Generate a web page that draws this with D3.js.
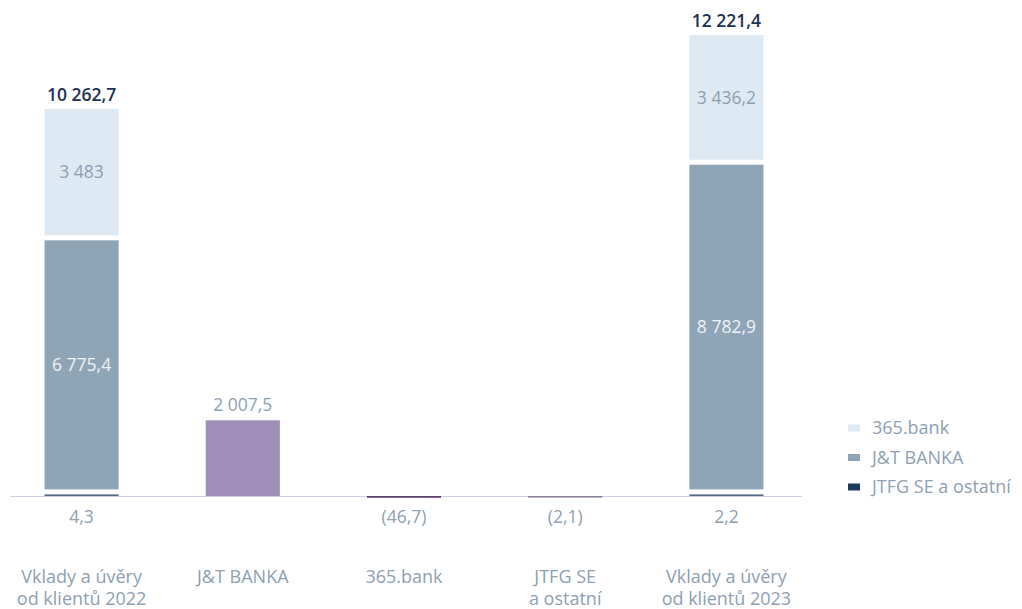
<!DOCTYPE html>
<html>
<head>
<meta charset="utf-8">
<script src="https://cdn.jsdelivr.net/npm/d3@7/dist/d3.min.js"></script>
<style>
  html, body { margin: 0; padding: 0; background: #ffffff; }
  svg text { font-family: 'Open Sans', sans-serif; }
</style>
</head>
<body>
<svg id="chart"></svg>
<script>
// categories on the x axis (\n = line break)
const categories = [
  'Vklady a úvěry\nod klientů 2022',
  'J&T BANKA',
  '365.bank',
  'JTFG SE\na ostatní',
  'Vklady a úvěry\nod klientů 2023'
];

// stacked series, bottom to top
const seriesNames = ['JTFG SE a ostatní', 'J&T BANKA', '365.bank'];
const values2022 = [4.3, 6775.4, 3483];
const values2023 = [2.2, 8782.9, 3436.2];
const totals = [10262.7, 12221.4];

// changes between the two years
const changeCategories = ['J&T BANKA', '365.bank', 'JTFG SE\na ostatní'];
const changeValues = [2007.5, -46.7, -2.1];

const legendOrder = ['365.bank', 'J&T BANKA', 'JTFG SE a ostatní'];

const WIDTH = 1022;
const HEIGHT = 609;
const BASE = 496;
const GAP = 5;

const seriesColor = {
  'JTFG SE a ostatní': '#1e3a5c',
  'J&T BANKA': '#8ea5b8',
  '365.bank': '#dde9f3'
};
const changeColor = ['#9f8fb6', '#5b3f6e', '#8b7f96'];
const GREY = '#8e9fb2';
const DARK = '#1d3150';

const cz = d3.formatLocale({decimal: ',', thousands: '\u00a0', grouping: [3], currency: ['', '']});
const fmt1 = cz.format(',.1f');
const fmt0 = cz.format(',.0f');
function fmt(v) {
  const s = Number.isInteger(v) ? fmt0(Math.abs(v)) : fmt1(Math.abs(v));
  return v < 0 ? '(' + s + ')' : s;
}

const svg = d3.select('#chart').attr('width', WIDTH).attr('height', HEIGHT);

const x = d3.scaleBand().domain(categories).range([1, 807]).paddingInner(0.54).paddingOuter(0.27);
const y = d3.scaleLinear().domain([0, 13000]).range([BASE, BASE - 13000 * 0.03771]);

// axis line
svg.append('line')
  .attr('x1', 10).attr('x2', 802)
  .attr('y1', BASE + 0.5).attr('y2', BASE + 0.5)
  .attr('stroke', '#cdd2e2').attr('stroke-width', 1.2);

// stacked bars
function drawStack(cat, values, total) {
  const g = svg.append('g');
  let cum = 0;
  let prevTop = BASE;
  values.forEach((v, i) => {
    const name = seriesNames[i];
    let bottom = y(cum) - (i > 0 ? GAP : 0);
    bottom = Math.min(bottom, prevTop - (i > 0 ? GAP : 0));
    cum += v;
    let top = y(cum);
    if (bottom - top < 1.6) top = bottom - 1.6;
    g.append('rect')
      .attr('x', x(cat)).attr('width', x.bandwidth())
      .attr('y', top).attr('height', bottom - top)
      .attr('fill', seriesColor[name])
      .attr('fill-opacity', i === 0 ? 0.75 : 1);
    prevTop = top;
    if (i === 0) {
      g.append('text')
        .attr('x', x(cat) + x.bandwidth() / 2).attr('y', BASE + 27)
        .attr('text-anchor', 'middle').attr('font-size', 17.5)
        .attr('fill', GREY).text(fmt(v));
    } else {
      g.append('text')
        .attr('x', x(cat) + x.bandwidth() / 2).attr('y', (top + bottom) / 2)
        .attr('dy', '0.35em')
        .attr('text-anchor', 'middle').attr('font-size', 17.5)
        .attr('fill', i === 1 ? '#eef3f7' : GREY).text(fmt(v));
    }
  });
  g.append('text')
    .attr('x', x(cat) + x.bandwidth() / 2).attr('y', y(total) - 8)
    .attr('text-anchor', 'middle').attr('font-size', 17.5).attr('font-weight', 600)
    .attr('fill', DARK).text(fmt(total));
}

drawStack(categories[0], values2022, totals[0]);
drawStack(categories[4], values2023, totals[1]);

// change bars
changeCategories.forEach((cat, i) => {
  const v = changeValues[i];
  const h = Math.max(1.6, Math.abs(y(v) - y(0)));
  svg.append('rect')
    .attr('x', x(cat)).attr('width', x.bandwidth())
    .attr('y', v >= 0 ? y(v) : BASE)
    .attr('height', h)
    .attr('fill', changeColor[i]);
  svg.append('text')
    .attr('x', x(cat) + x.bandwidth() / 2)
    .attr('y', v >= 0 ? y(v) - 9 : BASE + 27)
    .attr('text-anchor', 'middle').attr('font-size', 17.5)
    .attr('fill', GREY).text(fmt(v));
});

// category labels
categories.forEach(cat => {
  const t = svg.append('text')
    .attr('x', x(cat) + x.bandwidth() / 2).attr('y', 583)
    .attr('text-anchor', 'middle').attr('font-size', 18).attr('fill', GREY);
  cat.split('\n').forEach((line, j) => {
    t.append('tspan').attr('x', x(cat) + x.bandwidth() / 2)
      .attr('dy', j === 0 ? 0 : 22).text(line);
  });
});

// legend
const legend = svg.append('g').attr('transform', 'translate(848, 428)');
legendOrder.forEach((name, i) => {
  const row = legend.append('g').attr('transform', `translate(0, ${i * 29.5})`);
  row.append('rect').attr('x', 0).attr('y', -3.5).attr('width', 12).attr('height', 7)
    .attr('fill', seriesColor[name]);
  row.append('text').attr('x', 24).attr('y', 0).attr('dy', '0.35em')
    .attr('font-size', 18).attr('fill', GREY).text(name);
});
</script>
</body>
</html>
